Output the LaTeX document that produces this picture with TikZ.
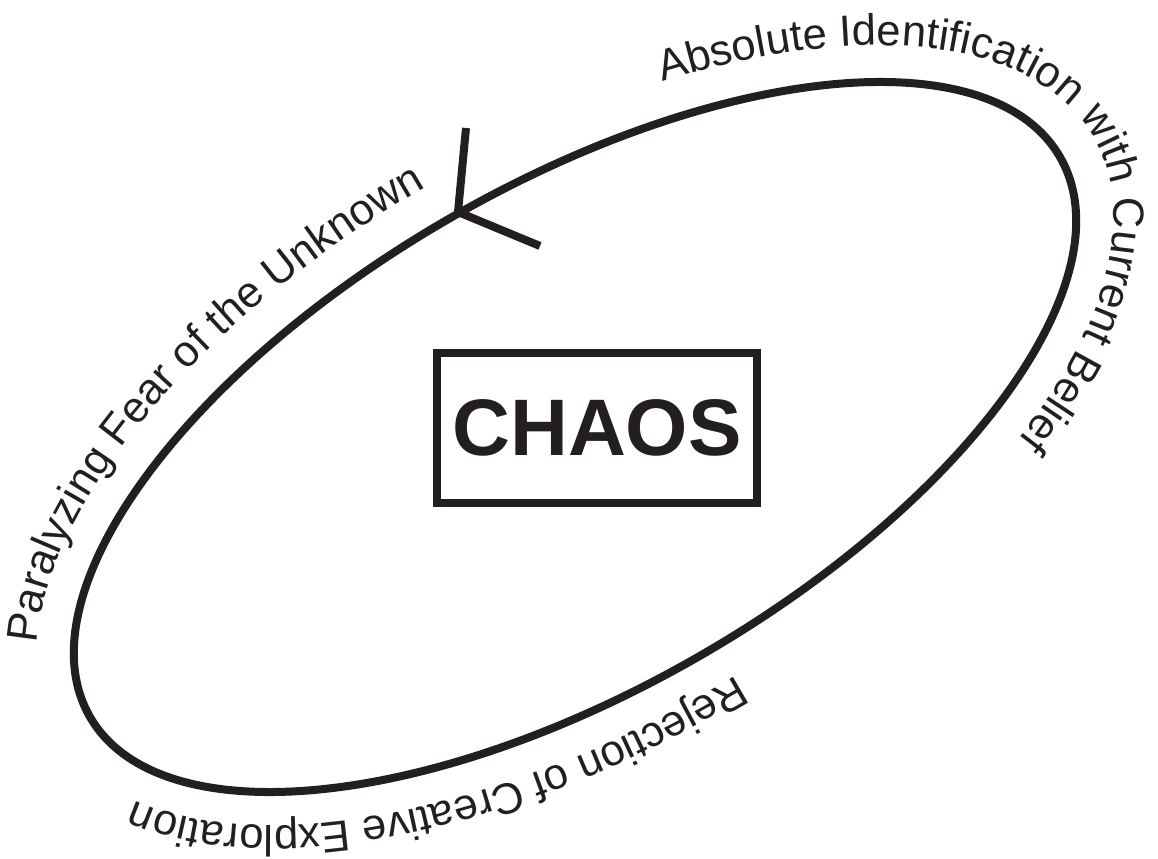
\documentclass[tikz,border=0pt]{standalone}
\usepackage{fontspec}
\usepackage{tikz}
\usetikzlibrary{decorations.text}
\newfontfamily\helv{Liberation Sans}
\newcommand\lblfont{\helv\fontsize{31pt}{36pt}\selectfont}
\definecolor{ink}{RGB}{35,31,32}

\begin{document}
\begin{tikzpicture}[
    x=0.025cm, y=0.025cm,
    orbit/.style={draw=ink, line width=0.2cm},
    barb/.style={draw=ink, line width=0.2cm, line join=miter},
    box/.style={draw=ink, text=ink, line width=0.2cm, minimum width=8cm, minimum height=3.725cm, inner sep=0pt,
      font=\helv\bfseries\fontsize{57pt}{60pt}\selectfont},
    lbl/.style={decorate, decoration={text along path, text align=left, raise=0pt, text color=ink, text={|\lblfont|#1}}}
  ]
  \useasboundingbox (0,0) rectangle (1158,858);
  \coordinate (c) at (575,421);
  \draw[orbit, rotate around={30:(c)}] (c) ellipse [x radius=560, y radius=252];

  % labels running round the loop, on a slightly wider ring
  \path[lbl={Absolute Identification with Current Belief}, rotate around={30:(c)}]
    (c) ++(65:599 and 291) arc[start angle=65, end angle=-85, x radius=599, y radius=291];
  \path[lbl={Paralyzing Fear of the Unknown}, rotate around={30:(c)}]
    (c) ++(162:599 and 291) arc[start angle=162, end angle=65, x radius=599, y radius=291];
  \path[lbl={Rejection of Creative Exploration}, rotate around={30:(c)}]
    (c) ++(-88:596 and 288) arc[start angle=-88, end angle=-190, x radius=596, y radius=288];

  % arrow head on the loop
  \coordinate (tip) at (458,646);
  \coordinate (barbA) at (466,730);
  \coordinate (barbB) at (540,612);
  \draw[barb] (barbA) -- (tip) -- (barbB);

  \node[box] (chaos) at (597,430) {CHAOS};
\end{tikzpicture}
\end{document}
